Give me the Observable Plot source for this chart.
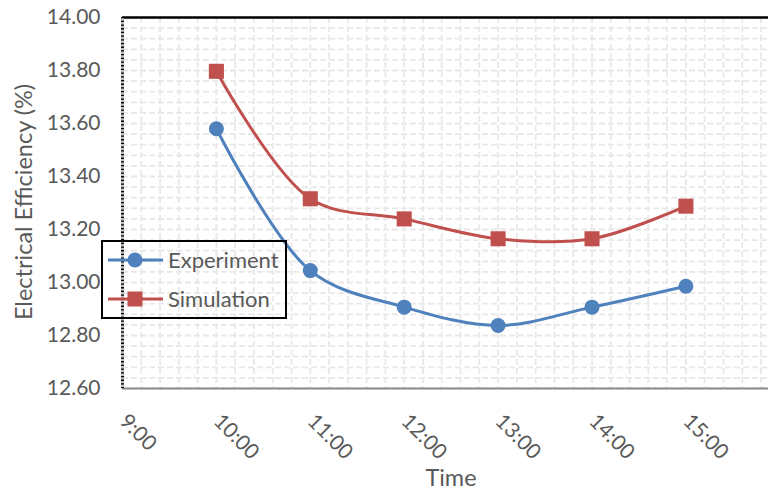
<!DOCTYPE html>
<html>
<head>
<meta charset="utf-8">
<script src="https://cdn.jsdelivr.net/npm/d3@7"></script>
<script src="https://cdn.jsdelivr.net/npm/@observablehq/plot@0.6"></script>
<style>
  html, body { margin: 0; padding: 0; background: #fff; }
  #wrap { position: relative; width: 768px; height: 491px; font-family: Lato, "Noto Sans", sans-serif; }
  #legend { position: absolute; left: 101px; top: 240px; width: 182px; height: 75px; border: 2px solid #000; box-sizing: content-box; }
  .axtitle { position: absolute; color: #595959; font-size: 23.5px; white-space: nowrap; line-height: 1; }
  #xtitle { left: 451px; top: 478px; transform: translate(-50%, -50%); }
  #ytitle { left: 24px; top: 202px; transform: translate(-50%, -50%) rotate(-90deg); }
</style>
</head>
<body>
<div id="wrap"></div>
<script>
// ---- data ----
const hours = [10, 11, 12, 13, 14, 15];
const experiment = [13.58, 13.045, 12.907, 12.838, 12.907, 12.986];
const simulation = [13.797, 13.316, 13.240, 13.165, 13.165, 13.288];
const seriesNames = ["Experiment", "Simulation"];
const seriesColors = ["#4F81BD", "#C0504D"];
const xTickValues = [9, 10, 11, 12, 13, 14, 15];
const xTickLabels = ["9:00", "10:00", "11:00", "12:00", "13:00", "14:00", "15:00"];
const yTickValues = [12.6, 12.8, 13.0, 13.2, 13.4, 13.6, 13.8, 14.0];
const xLabel = "Time";
const yLabel = "Electrical Efficiency (%)";

const rows = [];
hours.forEach((h, i) => {
  rows.push({hour: h, value: experiment[i], series: seriesNames[0]});
  rows.push({hour: h, value: simulation[i], series: seriesNames[1]});
});
const expRows = rows.filter(d => d.series === seriesNames[0]);
const simRows = rows.filter(d => d.series === seriesNames[1]);

const xMax = 9 + 646 / 93.9;
const minorX = d3.range(9, xMax, 0.2);
const minorY = d3.range(12.6, 14.0001, 0.04);
const textColor = "#595959";
const font = "Lato, 'Noto Sans', sans-serif";

const chart = Plot.plot({
  width: 768,
  height: 491,
  marginLeft: 122,
  marginRight: 0,
  marginTop: 17,
  marginBottom: 103,
  style: {fontFamily: font, background: "#fff"},
  x: {domain: [9, xMax], axis: null},
  y: {domain: [12.6, 14.0], axis: null},
  marks: [
    Plot.ruleX(minorX, {stroke: "#e8e8e8", strokeWidth: 1.8, strokeDasharray: "6,3"}),
    Plot.ruleY(minorY, {stroke: "#e8e8e8", strokeWidth: 1.8, strokeDasharray: "6,3"}),
    // frame lines
    Plot.ruleY([14.0], {stroke: "#000", strokeWidth: 2.5}),
    Plot.ruleY([12.6], {stroke: "#8a8a8a", strokeWidth: 2}),
    Plot.ruleX([9], {stroke: "#bdbdbd", strokeWidth: 3}),
    Plot.ruleX([9], {stroke: "#000", strokeWidth: 3, strokeDasharray: "1.3,2.4"}),
    // y tick labels
    Plot.text(yTickValues, {
      y: d => d, frameAnchor: "left", dx: -22, textAnchor: "end",
      text: d => d.toFixed(2), fill: textColor, fontSize: 21
    }),
    // x tick labels
    Plot.text(xTickValues, {
      x: d => d, frameAnchor: "bottom", dx: -4, dy: 34, rotate: 45,
      textAnchor: "start", lineAnchor: "bottom",
      text: (d, i) => xTickLabels[i], fill: textColor, fontSize: 21
    }),
    // series
    Plot.line(expRows, {x: "hour", y: "value", stroke: seriesColors[0], strokeWidth: 3, curve: "catmull-rom"}),
    Plot.line(simRows, {x: "hour", y: "value", stroke: seriesColors[1], strokeWidth: 3, curve: "catmull-rom"}),
    Plot.dot(expRows, {x: "hour", y: "value", r: 7.5, fill: seriesColors[0], symbol: "circle"}),
    Plot.dot(simRows, {x: "hour", y: "value", r: 8.5, fill: seriesColors[1], symbol: "square"})
  ]
});

const wrap = document.getElementById("wrap");
wrap.appendChild(chart);

// axis titles
const xt = document.createElement("div");
xt.id = "xtitle"; xt.className = "axtitle"; xt.textContent = xLabel;
wrap.appendChild(xt);
const yt = document.createElement("div");
yt.id = "ytitle"; yt.className = "axtitle"; yt.textContent = yLabel;
wrap.appendChild(yt);

// legend overlay
const legend = document.createElement("div");
legend.id = "legend";
const ns = "http://www.w3.org/2000/svg";
const lsvg = document.createElementNS(ns, "svg");
lsvg.setAttribute("width", 182);
lsvg.setAttribute("height", 75);
lsvg.style.overflow = "visible";
seriesNames.forEach((name, i) => {
  const cy = 18 + i * 39;
  const line = document.createElementNS(ns, "line");
  line.setAttribute("x1", 5); line.setAttribute("x2", 60);
  line.setAttribute("y1", cy); line.setAttribute("y2", cy);
  line.setAttribute("stroke", seriesColors[i]); line.setAttribute("stroke-width", 3);
  lsvg.appendChild(line);
  if (i === 0) {
    const c = document.createElementNS(ns, "circle");
    c.setAttribute("cx", 32); c.setAttribute("cy", cy); c.setAttribute("r", 7.5);
    c.setAttribute("fill", seriesColors[i]);
    lsvg.appendChild(c);
  } else {
    const r = document.createElementNS(ns, "rect");
    r.setAttribute("x", 24.5); r.setAttribute("y", cy - 7.5); r.setAttribute("width", 15); r.setAttribute("height", 15);
    r.setAttribute("fill", seriesColors[i]);
    lsvg.appendChild(r);
  }
  const t = document.createElementNS(ns, "text");
  t.setAttribute("x", 65); t.setAttribute("y", cy); t.setAttribute("dy", "0.35em");
  t.setAttribute("fill", textColor); t.setAttribute("font-size", 22);
  t.setAttribute("font-family", font);
  t.textContent = name;
  lsvg.appendChild(t);
});
legend.appendChild(lsvg);
wrap.appendChild(legend);
</script>
</body>
</html>
